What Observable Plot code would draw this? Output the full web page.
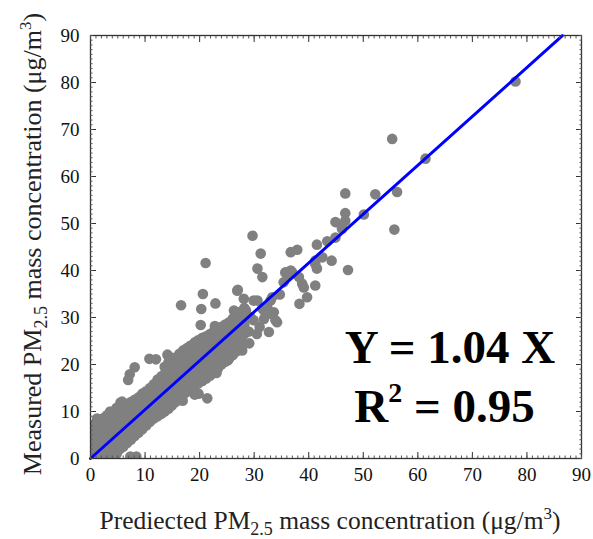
<!DOCTYPE html>
<html><head><meta charset="utf-8">
<script src="https://cdn.jsdelivr.net/npm/d3@7"></script>
<script src="https://cdn.jsdelivr.net/npm/@observablehq/plot@0.6"></script>
<style>
body{margin:0;background:#fff;}
svg text, svg tspan { font-family: 'Liberation Serif', 'Times New Roman', Times, serif !important; }
</style>
</head><body><div id="chart"></div>
<script>
const xTicks = [0, 10, 20, 30, 40, 50, 60, 70, 80, 90];
const yTicks = [0, 10, 20, 30, 40, 50, 60, 70, 80, 90];
const minorTicks = d3.range(0, 91, 1);
const slope = 1.04;
const r2 = 0.95;
const fitX = [0, 86.5];

// dense band of points (predicted, measured)
const bandPoints = [
  [0.3,0.3],[0.3,2.3],[0.3,4.3],[0.3,6.3],
  [1.2,0.5],[1.2,2.5],[1.2,4.5],[1.2,6.5],[1.2,8.5],
  [2.4,0.4],[2.4,2.4],[2.4,4.4],[2.4,6.4],[2.4,8.6],
  [3.6,0.5],[3.6,2.5],[3.6,4.5],[3.6,6.5],[3.6,8.5],[3.6,10],
  [4.8,1],[4.8,3],[4.8,5],[4.8,7],[4.8,9],[4.8,10.8],
  [6.0,2.5],[6.0,4.5],[6.0,6.5],[6.0,8.5],[6.0,10.5],[6.0,11.8],
  [7.4,4],[7.4,6],[7.4,8],[7.4,10],[7.4,12],
  [8.8,5.5],[8.8,7.5],[8.8,9.5],[8.8,11.5],[8.8,13],
  [10.2,7],[10.2,9],[10.2,11],[10.2,13],[10.2,14.3],
  [11.6,8.5],[11.6,10.5],[11.6,12.5],[11.6,14.5],[11.6,15.8],
  [13.0,9.5],[13.0,11.5],[13.0,13.5],[13.0,15.5],[13.0,17.5],
  [14.3,10.6],[14.3,12.6],[14.3,14.6],[14.3,16.6],[14.3,18.6],[14.3,20.5],[14.3,21.8],
  [15.6,12],[15.6,14],[15.6,16],[15.6,18],[15.6,20],[15.6,21.5],
  [17.0,13.5],[17.0,15.5],[17.0,17.5],[17.0,19.5],[17.0,21.5],[17.0,23],
  [18.4,14.8],[18.4,16.8],[18.4,18.8],[18.4,20.8],[18.4,22.8],[18.4,24],
  [19.8,16],[19.8,18],[19.8,20],[19.8,22],[19.8,24],[19.8,25.2],
  [21.2,17],[21.2,19],[21.2,21],[21.2,23],[21.2,25],[21.2,26],
  [22.6,18.2],[22.6,20.2],[22.6,22.2],[22.6,24.2],[22.6,26.2],[22.6,27],
  [24.0,20],[24.0,22],[24.0,24],[24.0,26],[24.0,28],
  [25.4,21.3],[25.4,23.3],[25.4,25.3],[25.4,27.3],[25.4,29],
  [26.8,22.8],[26.8,24.8],[26.8,26.8],[26.8,28.8],[26.8,30.5],
  [28.2,24.5],[28.2,26.5],[28.2,28.5],[28.2,30.5],[28.2,32],
  [0.75,1.3],[0.75,3.3],[0.75,5.3],[0.75,7.3],
  [1.8,1.5],[1.8,3.5],[1.8,5.5],[1.8,7.5],
  [3.0,1.4],[3.0,3.4],[3.0,5.4],[3.0,7.4],[3.0,9.2],
  [4.2,1.8],[4.2,3.8],[4.2,5.8],[4.2,7.8],[4.2,9.6],
  [5.4,2],[5.4,4],[5.4,6],[5.4,8],[5.4,10],[5.4,11.3],
  [6.7,3.3],[6.7,5.3],[6.7,7.3],[6.7,9.3],[6.7,11.2],
  [8.1,4.8],[8.1,6.8],[8.1,8.8],[8.1,10.8],[8.1,12.5],
  [9.5,6.2],[9.5,8.2],[9.5,10.2],[9.5,12.2],[9.5,13.8],
  [10.9,7.8],[10.9,9.8],[10.9,11.8],[10.9,13.8],[10.9,15],
  [12.3,9],[12.3,11],[12.3,13],[12.3,15],[12.3,16.8],
  [13.6,10],[13.6,12],[13.6,14],[13.6,16],[13.6,18],[13.6,19.5],
  [14.9,11.3],[14.9,13.3],[14.9,15.3],[14.9,17.3],[14.9,19.3],[14.9,21],
  [16.3,12.8],[16.3,14.8],[16.3,16.8],[16.3,18.8],[16.3,20.8],[16.3,22.3],
  [17.7,14.2],[17.7,16.2],[17.7,18.2],[17.7,20.2],[17.7,22.2],[17.7,23.5],
  [19.1,15.4],[19.1,17.4],[19.1,19.4],[19.1,21.4],[19.1,23.4],[19.1,24.7],
  [20.5,16.5],[20.5,18.5],[20.5,20.5],[20.5,22.5],[20.5,24.5],[20.5,25.7],
  [21.9,17.6],[21.9,19.6],[21.9,21.6],[21.9,23.6],[21.9,25.6],[21.9,26.5],
  [23.3,19],[23.3,21],[23.3,23],[23.3,25],[23.3,27],[23.3,27.5],
  [24.7,20.6],[24.7,22.6],[24.7,24.6],[24.7,26.6],[24.7,28.5],
  [26.1,22],[26.1,24],[26.1,26],[26.1,28],[26.1,29.8],
  [27.5,23.6],[27.5,25.6],[27.5,27.6],[27.5,29.6],[27.5,31.2]
];

// scattered points around the band
const scatterPoints = [
  [1.1,7.5],[1.9,0.5],[5.8,12.1],[5.5,11.9],[6.9,16.7],[7.2,17.9],[8.1,19.4],
  [10.8,21.2],[12.0,21.1],[14.1,22.1],[7.3,0.4],[8.4,0.4],[14.3,10.9],[16.9,12.3],
  [19.1,13.6],[19.8,13.8],[21.4,12.8],[18.3,24.0],[16.6,32.6],[20.2,28.4],[20.3,31.8],
  [20.6,35.0],[21.1,41.6],[22.8,28.2],[22.9,33.0],[24.8,27.8],[23.1,18.2],[25.2,20.9],
  [25.2,23.1],[27.8,23.0],[29.1,24.5],[27.0,35.9],
  [26.9,35.7],[28.1,34.0],[29.9,33.6],[30.6,33.6],[26.3,31.5],[28.5,31.5],[31.5,31.9],
  [31.8,31.5],[32.4,32.2],[33.0,30.8],[33.6,31.1],[33.9,29.4],[27.5,29.4],[29.3,30.1],
  [29.9,29.4],[31.8,29.7],[34.2,29.0],[31.0,28.0],[29.0,27.0],[30.5,26.5],[32.7,26.9],
  [33.3,34.3],[34.7,34.9],[33.0,33.6],[30.6,40.4],[31.5,38.6],[31.2,43.6],[29.7,47.4],
  [35.4,37.5],[36.1,38.9],[37.0,39.6],[38.2,38.6],[38.8,37.2],[39.1,36.4],[36.7,40.0],
  [35.7,39.6],[41.2,36.8],[39.7,34.3],[38.3,32.9],[37.9,44.4],[36.7,43.9],[41.2,41.4],
  [41.5,40.4],[42.5,42.8],[41.2,42.1],[44.2,42.1],[47.2,40.1],[41.5,45.5],[43.4,46.2],
  [44.9,47.0],[46.1,48.9],[44.9,50.3],[46.7,50.6],[46.7,52.2],[46.1,49.2],[50.1,51.9],
  [46.7,56.4],[52.2,56.2],[56.2,56.7],[55.7,48.7],[55.3,68.0],[61.4,63.8],[77.9,80.2]
];
const points = bandPoints.concat(scatterPoints);

const serif = "Liberation Serif";
const chart = Plot.plot({
  width: 593, height: 539,
  marginLeft: 90, marginRight: 12, marginTop: 35, marginBottom: 81,
  x: {domain: [0, 90], axis: null},
  y: {domain: [0, 90], axis: null},
  style: {fontSize: "19px", color: "#111", background: "white"},
  marks: [
    Plot.dot(points, {x: d => d[0], y: d => d[1], r: 5.3, fill: "#808080", clip: true}),
    Plot.line(fitX, {x: d => d, y: d => slope * d, stroke: "#0000ff", strokeWidth: 3}),
    Plot.frame({stroke: "#333", strokeWidth: 1.3}),
    // tick labels
    Plot.text(xTicks, {x: d => d, y: 0, text: d => String(d), dy: 9, lineAnchor: "top",
      fontFamily: serif, fontSize: 19, fill: "#111"}),
    Plot.text(yTicks, {x: 0, y: d => d, text: d => String(d), dx: -11, textAnchor: "end",
      fontFamily: serif, fontSize: 19, fill: "#111"}),
    // major ticks inward
    Plot.axisX(xTicks, {anchor: "bottom", tickSize: -6, tickFormat: () => "", label: null, stroke: "#333"}),
    Plot.axisX(xTicks, {anchor: "top", tickSize: -6, tickFormat: () => "", label: null, stroke: "#333"}),
    Plot.axisY(yTicks, {anchor: "left", tickSize: -6, tickFormat: () => "", label: null, stroke: "#333"}),
    Plot.axisY(yTicks, {anchor: "right", tickSize: -6, tickFormat: () => "", label: null, stroke: "#333"}),
    // minor ticks inward
    Plot.axisX(minorTicks, {anchor: "bottom", tickSize: -2.5, tickFormat: () => "", label: null, stroke: "#555"}),
    Plot.axisX(minorTicks, {anchor: "top", tickSize: -2.5, tickFormat: () => "", label: null, stroke: "#555"}),
    Plot.axisY(minorTicks, {anchor: "left", tickSize: -2.5, tickFormat: () => "", label: null, stroke: "#555"}),
    Plot.axisY(minorTicks, {anchor: "right", tickSize: -2.5, tickFormat: () => "", label: null, stroke: "#555"})
  ]
});
document.getElementById("chart").appendChild(chart);

const svg = d3.select(chart);
const xs = chart.scale("x"), ys = chart.scale("y");

function axisTitle(sel, lead) {
  sel.append("tspan").text(lead + " PM");
  sel.append("tspan").attr("dy", 6).style("font-size", "18px").text("2.5");
  sel.append("tspan").attr("dy", -6).text(" mass concentration (\u03bcg/m");
  sel.append("tspan").attr("dy", -10).style("font-size", "17px").text("3");
  sel.append("tspan").attr("dy", 10).text(")");
}

// x axis title
const xt = svg.append("text")
  .attr("x", 330).attr("y", 529)
  .attr("text-anchor", "middle")
  .style("font-size", "25.5px").style("fill", "#222");
axisTitle(xt, "Prediected");

// y axis title
const yt = svg.append("text")
  .attr("transform", "translate(41,244) rotate(-90)")
  .attr("text-anchor", "middle")
  .style("font-size", "26px").style("fill", "#222");
axisTitle(yt, "Measured");

// annotations
svg.append("text")
  .attr("x", xs.apply(66)).attr("y", ys.apply(20.2))
  .attr("text-anchor", "middle")
  .style("font-size", "47px").style("font-weight", "bold").style("fill", "#000")
  .text(`Y = ${slope.toFixed(2)} X`);
const ra = svg.append("text")
  .attr("x", xs.apply(65)).attr("y", ys.apply(7.7))
  .attr("text-anchor", "middle")
  .style("font-size", "47px").style("font-weight", "bold").style("fill", "#000");
ra.append("tspan").text("R");
ra.append("tspan").attr("dy", -20).style("font-size", "28px").text("2");
ra.append("tspan").attr("dy", 20).text(` = ${r2.toFixed(2)}`);
</script>
</body></html>
